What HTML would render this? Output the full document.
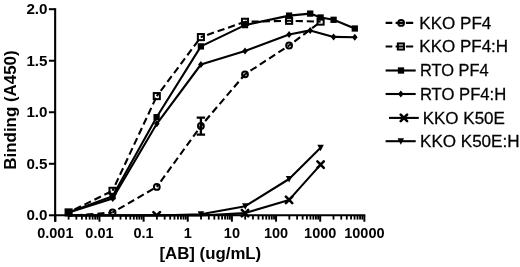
<!DOCTYPE html><html><head><meta charset="utf-8"><title>Binding chart</title>
<style>html,body{margin:0;padding:0;background:#fff}svg{display:block}text{font-family:"Liberation Sans",sans-serif;fill:#000}.b{font-weight:bold}</style></head><body>
<svg width="520" height="267" viewBox="0 0 520 267">
<rect width="520" height="267" fill="#fff"/>
<g stroke="#000" stroke-width="2.1" fill="none" stroke-linecap="butt">
<path d="M55.15 8.2V221.7"/>
<path d="M54.1 215.3H365.3"/>
</g>
<g stroke="#000" stroke-width="2">
<path d="M48.9 215.30H55"/>
<path d="M48.9 163.78H55"/>
<path d="M48.9 112.25H55"/>
<path d="M48.9 60.73H55"/>
<path d="M48.9 9.20H55"/>
</g>
<g stroke="#000" stroke-width="2">
<path d="M55.30 215.3V221.7"/>
<path d="M99.45 215.3V221.7"/>
<path d="M143.60 215.3V221.7"/>
<path d="M187.75 215.3V221.7"/>
<path d="M231.90 215.3V221.7"/>
<path d="M276.05 215.3V221.7"/>
<path d="M320.20 215.3V221.7"/>
<path d="M364.35 215.3V221.7"/>
</g><g stroke="#000" stroke-width="1.8">
<path d="M68.59 215.3V219.6"/>
<path d="M76.36 215.3V219.6"/>
<path d="M81.88 215.3V219.6"/>
<path d="M86.16 215.3V219.6"/>
<path d="M89.66 215.3V219.6"/>
<path d="M92.61 215.3V219.6"/>
<path d="M95.17 215.3V219.6"/>
<path d="M97.43 215.3V219.6"/>
<path d="M112.74 215.3V219.6"/>
<path d="M120.51 215.3V219.6"/>
<path d="M126.03 215.3V219.6"/>
<path d="M130.31 215.3V219.6"/>
<path d="M133.81 215.3V219.6"/>
<path d="M136.76 215.3V219.6"/>
<path d="M139.32 215.3V219.6"/>
<path d="M141.58 215.3V219.6"/>
<path d="M156.89 215.3V219.6"/>
<path d="M164.66 215.3V219.6"/>
<path d="M170.18 215.3V219.6"/>
<path d="M174.46 215.3V219.6"/>
<path d="M177.96 215.3V219.6"/>
<path d="M180.91 215.3V219.6"/>
<path d="M183.47 215.3V219.6"/>
<path d="M185.73 215.3V219.6"/>
<path d="M201.04 215.3V219.6"/>
<path d="M208.81 215.3V219.6"/>
<path d="M214.33 215.3V219.6"/>
<path d="M218.61 215.3V219.6"/>
<path d="M222.11 215.3V219.6"/>
<path d="M225.06 215.3V219.6"/>
<path d="M227.62 215.3V219.6"/>
<path d="M229.88 215.3V219.6"/>
<path d="M245.19 215.3V219.6"/>
<path d="M252.96 215.3V219.6"/>
<path d="M258.48 215.3V219.6"/>
<path d="M262.76 215.3V219.6"/>
<path d="M266.26 215.3V219.6"/>
<path d="M269.21 215.3V219.6"/>
<path d="M271.77 215.3V219.6"/>
<path d="M274.03 215.3V219.6"/>
<path d="M289.34 215.3V219.6"/>
<path d="M297.11 215.3V219.6"/>
<path d="M302.63 215.3V219.6"/>
<path d="M306.91 215.3V219.6"/>
<path d="M310.41 215.3V219.6"/>
<path d="M313.36 215.3V219.6"/>
<path d="M315.92 215.3V219.6"/>
<path d="M318.18 215.3V219.6"/>
<path d="M333.49 215.3V219.6"/>
<path d="M341.26 215.3V219.6"/>
<path d="M346.78 215.3V219.6"/>
<path d="M351.06 215.3V219.6"/>
<path d="M354.56 215.3V219.6"/>
<path d="M357.51 215.3V219.6"/>
<path d="M360.07 215.3V219.6"/>
<path d="M362.33 215.3V219.6"/>
</g>
<g class="b" font-size="15.2" text-anchor="end">
<text x="47.5" y="220.40">0.0</text>
<text x="47.5" y="168.88">0.5</text>
<text x="47.5" y="117.35">1.0</text>
<text x="47.5" y="65.83">1.5</text>
<text x="47.5" y="14.30">2.0</text>
</g>
<g class="b" font-size="15.2" text-anchor="middle">
<text transform="translate(55.30 237.7) scale(0.955 1)">0.001</text>
<text transform="translate(99.45 237.7) scale(0.955 1)">0.01</text>
<text transform="translate(143.60 237.7) scale(0.955 1)">0.1</text>
<text transform="translate(187.75 237.7) scale(0.955 1)">1</text>
<text transform="translate(231.90 237.7) scale(0.955 1)">10</text>
<text transform="translate(276.05 237.7) scale(0.955 1)">100</text>
<text transform="translate(320.20 237.7) scale(0.955 1)">1000</text>
<text transform="translate(364.35 237.7) scale(0.955 1)">10000</text>
</g>
<text class="b" font-size="16.5" text-anchor="middle" transform="translate(210.3 259.2) scale(1.02 1)">[AB] (ug/mL)</text>
<text class="b" font-size="16.2" text-anchor="middle" transform="translate(15.7 110) rotate(-90) scale(1.045 1)">Binding (A450)</text>
<path d="M68.6 215.5 L112.7 215.5 L156.7 215.4 L200.9 215.5 L245.0 213.1 L289.1 199.9 L320.6 164.6" fill="none" stroke="#000" stroke-width="2.1" stroke-linejoin="round"/>
<path d="M153.40 212.10L156.7 215.4L160.00 212.10" stroke="#000" stroke-width="2.6" stroke-linecap="round" fill="none"/>
<path d="M241.80 209.90L248.20 216.30M241.80 216.30L248.20 209.90" stroke="#000" stroke-width="2.6" stroke-linecap="round" fill="none"/>
<path d="M285.90 196.70L292.30 203.10M285.90 203.10L292.30 196.70" stroke="#000" stroke-width="2.6" stroke-linecap="round" fill="none"/>
<path d="M317.40 161.40L323.80 167.80M317.40 167.80L323.80 161.40" stroke="#000" stroke-width="2.6" stroke-linecap="round" fill="none"/>
<path d="M68.6 215.5 L112.7 215.5 L156.8 215.5 L200.9 214.2 L245.3 206.2 L289.1 179.0 L320.6 147.7" fill="none" stroke="#000" stroke-width="2.1" stroke-linejoin="round"/>
<path d="M197.70 211.20H204.10L200.9 217.70Z" fill="#000"/>
<path d="M242.10 203.20H248.50L245.3 209.70Z" fill="#000"/>
<path d="M285.90 176.00H292.30L289.1 182.50Z" fill="#000"/>
<path d="M317.40 144.70H323.80L320.6 151.20Z" fill="#000"/>
<path d="M68.6 212.5 L112.7 198.5 L156.8 123.8 L200.9 64.5 L245.0 50.9 L289.1 34.5 L310.2 30.4 L333.6 36.9 L354.8 37.2" fill="none" stroke="#000" stroke-width="2.1" stroke-linejoin="round"/>
<path d="M65.80 212.5L68.6 209.00L71.40 212.5L68.6 216.00Z" fill="#000"/>
<path d="M109.90 198.5L112.7 195.00L115.50 198.5L112.7 202.00Z" fill="#000"/>
<path d="M154.00 123.8L156.8 120.30L159.60 123.8L156.8 127.30Z" fill="#000"/>
<path d="M198.10 64.5L200.9 61.00L203.70 64.5L200.9 68.00Z" fill="#000"/>
<path d="M242.20 50.9L245 47.40L247.80 50.9L245 54.40Z" fill="#000"/>
<path d="M286.30 34.5L289.1 31.00L291.90 34.5L289.1 38.00Z" fill="#000"/>
<path d="M307.40 30.4L310.2 26.90L313.00 30.4L310.2 33.90Z" fill="#000"/>
<path d="M330.80 36.9L333.6 33.40L336.40 36.9L333.6 40.40Z" fill="#000"/>
<path d="M352.00 37.2L354.8 33.70L357.60 37.2L354.8 40.70Z" fill="#000"/>
<path d="M68.5 212.4 L112.6 196.2 L156.6 117.2 L200.9 46.4 L245.0 25.1 L289.1 15.6 L310.2 13.6 L320.6 17.5 L333.6 19.8 L354.8 28.5" fill="none" stroke="#000" stroke-width="2.1" stroke-linejoin="round"/>
<rect x="65.35" y="209.25" width="6.30" height="6.30" fill="#000"/>
<rect x="109.45" y="193.05" width="6.30" height="6.30" fill="#000"/>
<rect x="153.45" y="114.05" width="6.30" height="6.30" fill="#000"/>
<rect x="197.75" y="43.25" width="6.30" height="6.30" fill="#000"/>
<rect x="241.85" y="21.95" width="6.30" height="6.30" fill="#000"/>
<rect x="285.95" y="12.45" width="6.30" height="6.30" fill="#000"/>
<rect x="307.05" y="10.45" width="6.30" height="6.30" fill="#000"/>
<rect x="317.45" y="14.35" width="6.30" height="6.30" fill="#000"/>
<rect x="330.45" y="16.65" width="6.30" height="6.30" fill="#000"/>
<rect x="351.65" y="25.35" width="6.30" height="6.30" fill="#000"/>
<path d="M68.6 216.0L112.6 212.5" fill="none" stroke="#000" stroke-width="2.1" stroke-dasharray="7.2 3.9" stroke-dashoffset="4.5"/>
<path d="M112.6 212.5L156.8 186.9" fill="none" stroke="#000" stroke-width="2.1" stroke-dasharray="7.2 3.9" stroke-dashoffset="4.5"/>
<path d="M156.8 186.9L200.9 126.0" fill="none" stroke="#000" stroke-width="2.1" stroke-dasharray="7.2 3.9" stroke-dashoffset="4.5"/>
<path d="M200.9 126.0L245.0 74.3" fill="none" stroke="#000" stroke-width="2.1" stroke-dasharray="7.2 3.9" stroke-dashoffset="4.5"/>
<path d="M245.0 74.3L289.1 45.5" fill="none" stroke="#000" stroke-width="2.1" stroke-dasharray="7.2 3.9" stroke-dashoffset="4.5"/>
<path d="M289.1 45.5L320.4 22.0" fill="none" stroke="#000" stroke-width="2.1" stroke-dasharray="7.2 3.9" stroke-dashoffset="4.5"/>
<circle cx="112.6" cy="212.5" r="2.9" fill="none" stroke="#000" stroke-width="2"/>
<circle cx="156.8" cy="186.9" r="2.9" fill="none" stroke="#000" stroke-width="2"/>
<circle cx="200.9" cy="126.0" r="2.9" fill="none" stroke="#000" stroke-width="2"/>
<circle cx="245" cy="74.3" r="2.9" fill="none" stroke="#000" stroke-width="2"/>
<circle cx="289.1" cy="45.5" r="2.9" fill="none" stroke="#000" stroke-width="2"/>
<path d="M68.6 212.4L112.5 190.8" fill="none" stroke="#000" stroke-width="2.1" stroke-dasharray="7.2 3.9" stroke-dashoffset="4.5"/>
<path d="M112.5 190.8L156.8 96.1" fill="none" stroke="#000" stroke-width="2.1" stroke-dasharray="7.2 3.9" stroke-dashoffset="4.5"/>
<path d="M156.8 96.1L200.9 37.1" fill="none" stroke="#000" stroke-width="2.1" stroke-dasharray="7.2 3.9" stroke-dashoffset="4.5"/>
<path d="M200.9 37.1L245.0 21.8" fill="none" stroke="#000" stroke-width="2.1" stroke-dasharray="7.2 3.9" stroke-dashoffset="4.5"/>
<path d="M245.0 21.8L289.1 20.8" fill="none" stroke="#000" stroke-width="2.1" stroke-dasharray="7.2 3.9" stroke-dashoffset="4.5"/>
<path d="M289.1 20.8L320.6 21.6" fill="none" stroke="#000" stroke-width="2.1" stroke-dasharray="7.2 3.9" stroke-dashoffset="4.5"/>
<rect x="65.55" y="209.35" width="6.10" height="6.10" fill="none" stroke="#000" stroke-width="2"/>
<rect x="109.45" y="187.75" width="6.10" height="6.10" fill="none" stroke="#000" stroke-width="2"/>
<rect x="153.75" y="93.05" width="6.10" height="6.10" fill="none" stroke="#000" stroke-width="2"/>
<rect x="197.85" y="34.05" width="6.10" height="6.10" fill="none" stroke="#000" stroke-width="2"/>
<rect x="241.95" y="18.75" width="6.10" height="6.10" fill="none" stroke="#000" stroke-width="2"/>
<rect x="286.05" y="17.75" width="6.10" height="6.10" fill="none" stroke="#000" stroke-width="2"/>
<rect x="317.55" y="18.55" width="6.10" height="6.10" fill="none" stroke="#000" stroke-width="2"/>
<path d="M200.9 117.6V134.6M196.70000000000002 117.6H205.1M196.70000000000002 134.6H205.1" stroke="#000" stroke-width="2.3" fill="none"/>
<path d="M385.6 22.9H392.3M395.6 22.9H403.3M405.9 22.9H413.2" stroke="#000" stroke-width="2.1"/>
<circle cx="401.1" cy="22.9" r="2.9" fill="none" stroke="#000" stroke-width="2"/>
<text transform="translate(419.3 28.5) scale(1.08 1)" font-size="15.8" stroke="#000" stroke-width="0.25">KKO PF4</text>
<path d="M385.6 46.5H392.3M395.6 46.5H403.1M405.9 46.5H413.2" stroke="#000" stroke-width="2.1"/>
<rect x="397.85" y="43.45" width="6.10" height="6.10" fill="none" stroke="#000" stroke-width="2"/>
<text transform="translate(419.3 52.1) scale(1.076 1)" font-size="15.8" stroke="#000" stroke-width="0.25">KKO PF4:H</text>
<path d="M385.6 70.5H415.7" stroke="#000" stroke-width="2.1"/>
<rect x="397.85" y="67.35" width="6.30" height="6.30" fill="#000"/>
<text transform="translate(419.9 76.1) scale(1.04 1)" font-size="15.8" stroke="#000" stroke-width="0.25">RTO PF4</text>
<path d="M385.6 94.0H415.7" stroke="#000" stroke-width="2.1"/>
<path d="M398.00 94.0L400.8 90.50L403.60 94.0L400.8 97.50Z" fill="#000"/>
<text transform="translate(419.9 99.6) scale(1.054 1)" font-size="15.8" stroke="#000" stroke-width="0.25">RTO PF4:H</text>
<path d="M389 117.9H418.8" stroke="#000" stroke-width="2.1"/>
<path d="M400.70 114.70L407.10 121.10M400.70 121.10L407.10 114.70" stroke="#000" stroke-width="2.6" stroke-linecap="round" fill="none"/>
<text transform="translate(422.7 123.5) scale(1.076 1)" font-size="15.8" stroke="#000" stroke-width="0.25">KKO K50E</text>
<path d="M385.6 141.2H415.7" stroke="#000" stroke-width="2.1"/>
<path d="M397.60 138.20H404.00L400.8 144.70Z" fill="#000"/>
<text transform="translate(420.0 146.8) scale(1.08 1)" font-size="15.8" stroke="#000" stroke-width="0.25">KKO K50E:H</text>
</svg></body></html>
